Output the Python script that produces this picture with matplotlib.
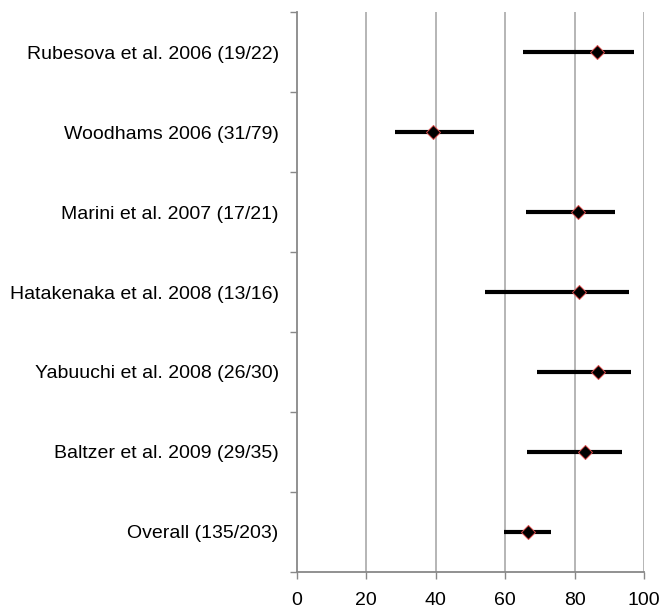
import numpy as np
import matplotlib
matplotlib.use("Agg")
import matplotlib.pyplot as plt
from matplotlib.ticker import FixedLocator, NullFormatter

plt.rcParams["font.family"] = ["Liberation Sans", "DejaVu Sans"]

studies = [
    "Rubesova et al. 2006 (19/22)",
    "Woodhams 2006 (31/79)",
    "Marini et al. 2007 (17/21)",
    "Hatakenaka et al. 2008 (13/16)",
    "Yabuuchi et al. 2008 (26/30)",
    "Baltzer et al. 2009 (29/35)",
    "Overall (135/203)",
]
estimate = [86.4, 39.2, 81.0, 81.3, 86.7, 82.9, 66.5]
ci_low = [65.3, 28.3, 66.1, 54.3, 69.3, 66.4, 59.8]
ci_high = [97.2, 51.1, 91.7, 95.8, 96.3, 93.7, 73.3]

fig = plt.figure(figsize=(6.63, 6.13), dpi=100)
ax = fig.add_axes([0.4475, 0.0669, 0.5238, 0.9135])

ypos = np.arange(len(studies)) + 0.5

# vertical gridlines behind everything
for gx in range(20, 101, 20):
    ax.axvline(gx, color="#b0b0b0", lw=1.3, zorder=0)

ax.hlines(ypos, ci_low, ci_high, color="black", lw=3.0, zorder=2)
ax.plot(estimate, ypos, "D", color="black", markersize=7,
        markeredgecolor="#d84a4a", markeredgewidth=0.7, zorder=3, linestyle="none")

ax.set_xlim(0, 100)
ax.set_ylim(len(studies), 0)
ax.set_xticks(range(0, 101, 20))

ax.set_yticks(ypos)
ax.set_yticklabels(studies)
ax.yaxis.set_minor_locator(FixedLocator(np.arange(len(studies) + 1)))
ax.yaxis.set_minor_formatter(NullFormatter())
ax.tick_params(axis="y", which="major", length=0, pad=13, labelsize=14)
ax.tick_params(axis="y", which="minor", length=5, width=1, color="#888888")
ax.tick_params(axis="x", length=5, width=1, color="#888888", labelsize=14, pad=9.5)

for side in ("top", "right"):
    ax.spines[side].set_visible(False)
for side in ("left", "bottom"):
    ax.spines[side].set_color("#888888")
    ax.spines[side].set_linewidth(1.3)

fig.savefig("out.png", dpi=100)
